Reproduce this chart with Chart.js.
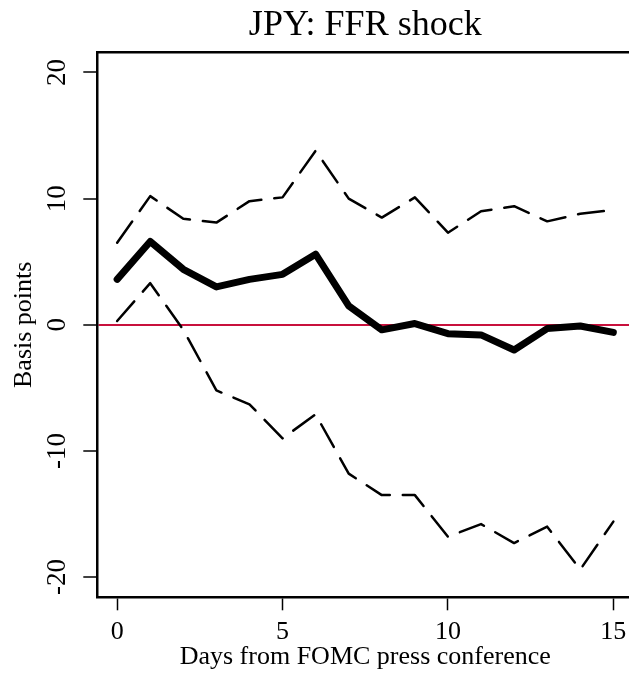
<!DOCTYPE html>
<html>
<head>
<meta charset="utf-8">
<script src="https://cdn.jsdelivr.net/npm/chart.js@4.4.1/dist/chart.umd.min.js"></script>
<style>
  html, body { margin: 0; padding: 0; background: #fff; overflow: hidden; }
  #wrap { width: 640px; height: 675px; }
</style>
</head>
<body>
<div id="wrap"><canvas id="myChart" width="640" height="675"></canvas></div>
<script>
    // JPY response to FFR shock, basis points
    const days = [0, 1, 2, 3, 4, 5, 6, 7, 8, 9, 10, 11, 12, 13, 14, 15];
    const irf = [3.6, 6.6, 4.4, 3.0, 3.6, 4.0, 5.6, 1.5, -0.4, 0.1, -0.7, -0.8, -2.0, -0.3, -0.1, -0.6];
    const upper = [6.5, 10.2, 8.4, 8.1, 9.8, 10.1, 13.8, 10.0, 8.5, 10.1, 7.3, 9.0, 9.4, 8.2, 8.8, 9.1];
    const lower = [0.3, 3.3, -0.4, -5.2, -6.3, -9.0, -7.1, -11.8, -13.5, -13.5, -16.8, -15.8, -17.3, -16.0, -19.4, -15.6];
    const xTicks = [0, 5, 10, 15];
    const yTicks = [-20, -10, 0, 10, 20];

    const serif = "'Liberation Serif', 'Times New Roman', serif";
    Chart.defaults.font.family = serif;
    Chart.defaults.color = '#000';

    const pts = arr => days.map((d, i) => ({ x: d, y: arr[i] }));

    const ctx = document.getElementById('myChart').getContext('2d');
    const myChart = new Chart(ctx, {
        type: 'line',
        data: {
            datasets: [{
                label: 'upper',
                data: pts(upper),
                borderColor: '#000',
                borderWidth: 2.5,
                borderDash: [26, 13]
            }, {
                label: 'lower',
                data: pts(lower),
                borderColor: '#000',
                borderWidth: 2.5,
                borderDash: [26, 13]
            }, {
                label: 'irf',
                data: pts(irf),
                borderColor: '#000',
                borderWidth: 7
            }]
        },
        options: {
            responsive: false,
            animation: false,
            devicePixelRatio: 1,
            layout: {
                padding: { left: 0, right: 6.8, top: 0, bottom: 0 }
            },
            plugins: {
                legend: { display: false },
                tooltip: { enabled: false },
                title: {
                    display: true,
                    text: 'JPY: FFR shock',
                    fullSize: false,
                    font: { size: 36, weight: 'normal', family: serif },
                    color: '#000',
                    padding: { top: 4, bottom: 0 }
                }
            },
            scales: {
                x: {
                    type: 'linear',
                    min: -0.6,
                    max: 15.6,
                    afterBuildTicks: s => { s.ticks = xTicks.map(v => ({ value: v })); },
                    afterFit: s => { s.height = 77.7; },
                    border: { display: true, color: '#000', width: 2.5 },
                    grid: {
                        display: true,
                        drawOnChartArea: false,
                        drawTicks: true,
                        tickLength: 13,
                        tickColor: '#000',
                        tickWidth: 1.5
                    },
                    ticks: {
                        font: { size: 26 },
                        padding: 6,
                        maxRotation: 0
                    },
                    title: {
                        display: true,
                        text: 'Days from FOMC press conference',
                        font: { size: 26 },
                        padding: { top: 0, bottom: 2 }
                    }
                },
                x2: {
                    type: 'linear',
                    position: 'top',
                    min: -0.6,
                    max: 15.6,
                    afterFit: s => { s.height = 5.1; },
                    border: { display: true, color: '#000', width: 2.5 },
                    grid: { display: false },
                    ticks: { display: false }
                },
                y: {
                    type: 'linear',
                    min: -21.6,
                    max: 21.6,
                    afterBuildTicks: s => { s.ticks = yTicks.map(v => ({ value: v })); },
                    afterFit: s => { s.width = 97.3; },
                    border: { display: true, color: '#000', width: 2.5 },
                    grid: {
                        display: true,
                        drawOnChartArea: true,
                        color: c => (c.tick && c.tick.value === 0) ? '#c8103c' : 'rgba(0,0,0,0)',
                        lineWidth: 2,
                        tickLength: 14,
                        tickColor: '#000',
                        tickWidth: 1.5
                    },
                    ticks: {
                        font: { size: 27 },
                        padding: 7,
                        minRotation: 90,
                        maxRotation: 90,
                        crossAlign: 'center'
                    },
                    title: {
                        display: true,
                        text: 'Basis points',
                        font: { size: 26 },
                        padding: { top: 9, bottom: 0 }
                    }
                }
            },
            elements: {
                point: { radius: 0 },
                line: { tension: 0, borderCapStyle: 'round', borderJoinStyle: 'round' }
            }
        }
    });
</script>
</body>
</html>
